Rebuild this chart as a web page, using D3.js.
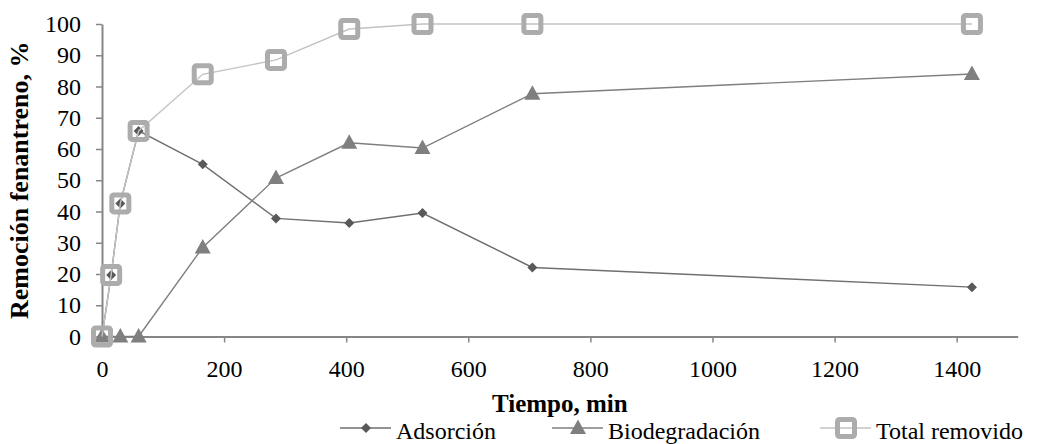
<!DOCTYPE html>
<html>
<head>
<meta charset="utf-8">
<script src="https://cdn.jsdelivr.net/npm/d3@7"></script>
<style>
  body { margin: 0; background: #fff; }
</style>
</head>
<body>
<div id="chart"></div>
<script>
const timeMin = [0, 15, 30, 60, 165, 285, 405, 525, 705, 1425];
const adsorcion = [0, 19.7, 42.6, 65.8, 55.1, 37.8, 36.3, 39.5, 22.1, 15.8];
const biodegradacion = [0, null, 0, 0, 28.5, 50.7, 62.0, 60.3, 77.7, 84.0];
const totalRemovido = [0, 19.7, 42.6, 65.8, 83.9, 88.5, 98.4, 100, 100, 100];
const seriesNames = ['Adsorción', 'Biodegradación', 'Total removido'];
const xTicks = [0, 200, 400, 600, 800, 1000, 1200, 1400];
const yTicks = [0, 10, 20, 30, 40, 50, 60, 70, 80, 90, 100];

const width = 1042;
const height = 444;
const serif = 'Liberation Serif';

const svg = d3.select('#chart')
  .append('svg')
    .attr('width', width)
    .attr('height', height);

const x = d3.scaleLinear().domain([0, 1500]).range([102, 1017.7]);
const y = d3.scaleLinear().domain([0, 100]).range([336.5, 24]);

const axisColor = '#868686';

// axes
const yAxis = svg.append('g')
    .attr('transform', `translate(${x(0)},0)`)
    .call(d3.axisLeft(y).tickValues(yTicks).tickFormat(d3.format('d'))
      .tickSize(6).tickSizeOuter(0).tickPadding(15));
const xAxis = svg.append('g')
    .attr('transform', `translate(0,${y(0)})`)
    .call(d3.axisBottom(x).tickValues(xTicks).tickFormat(d3.format('d'))
      .tickSize(6).tickSizeOuter(0).tickPadding(17));

[xAxis, yAxis].forEach(g => {
  g.attr('font-family', null).attr('font-size', null);
  g.select('.domain').attr('stroke', axisColor).attr('stroke-width', 2);
  g.selectAll('.tick line').attr('stroke', axisColor).attr('stroke-width', 1.5);
  g.selectAll('.tick text')
    .attr('fill', '#000')
    .attr('font-family', serif)
    .attr('font-size', 24);
});

// axis titles
svg.append('text')
    .attr('x', (x(0) + x(1500)) / 2)
    .attr('y', 412)
    .attr('text-anchor', 'middle')
    .attr('font-family', serif)
    .attr('font-size', 25)
    .attr('font-weight', 'bold')
    .text('Tiempo, min');

svg.append('text')
    .attr('transform', `translate(28,${(y(0) + y(100)) / 2}) rotate(-90)`)
    .attr('text-anchor', 'middle')
    .attr('font-family', serif)
    .attr('font-size', 26)
    .attr('font-weight', 'bold')
    .text('Remoción fenantreno, %');

// series
const series = [
  { name: seriesNames[0], values: adsorcion, line: '#6f6f6f', marker: 'diamond', color: '#595959' },
  { name: seriesNames[1], values: biodegradacion, line: '#7f7f7f', marker: 'triangle', color: '#7f7f7f' },
  { name: seriesNames[2], values: totalRemovido, line: '#c3c3c3', marker: 'square', color: '#acacac' }
];

function drawMarker(g, type, color) {
  if (type === 'diamond') {
    g.append('path').attr('d', 'M0,-5L5,0L0,5L-5,0Z').attr('fill', color);
  } else if (type === 'triangle') {
    g.append('path').attr('d', 'M0,-8.5L8,6L-8,6Z').attr('fill', color);
  } else {
    g.append('rect')
      .attr('x', -8.5).attr('y', -8.5)
      .attr('width', 17).attr('height', 17)
      .attr('rx', 2)
      .attr('fill', 'none')
      .attr('stroke', color)
      .attr('stroke-width', 5);
  }
}

series.forEach(s => {
  const pts = timeMin.map((t, i) => [t, s.values[i]]).filter(d => d[1] !== null);
  const line = d3.line().x(d => x(d[0])).y(d => y(d[1]));
  svg.append('path')
    .datum(pts)
    .attr('d', line)
    .attr('fill', 'none')
    .attr('stroke', s.line)
    .attr('stroke-width', 1.4);
  svg.append('g').selectAll('g')
    .data(pts)
    .join('g')
      .attr('transform', d => `translate(${x(d[0])},${y(d[1])})`)
      .each(function () { drawMarker(d3.select(this), s.marker, s.color); });
});

// legend
const legendX = [340, 552, 820];
const legendY = 428;
series.forEach((s, i) => {
  const g = svg.append('g').attr('transform', `translate(${legendX[i]},${legendY})`);
  g.append('line')
    .attr('x1', 0).attr('x2', 51)
    .attr('stroke', s.line)
    .attr('stroke-width', 1.4);
  const m = g.append('g').attr('transform', 'translate(26,0)');
  drawMarker(m, s.marker, s.color);
  g.append('text')
    .attr('x', 56)
    .attr('y', 11)
    .attr('font-family', serif)
    .attr('font-size', 24)
    .text(s.name);
});
</script>
</body>
</html>
